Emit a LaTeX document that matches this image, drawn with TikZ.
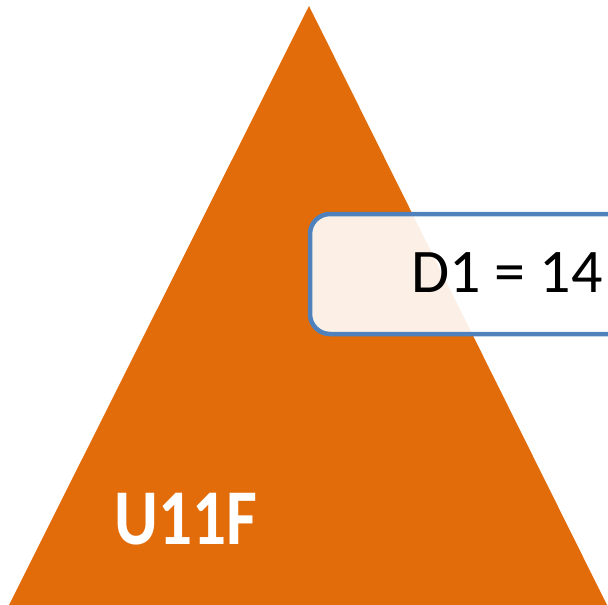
\documentclass[tikz,border=0pt]{standalone}
\usepackage{fontspec}
\setmainfont{Carlito}
\definecolor{tri}{HTML}{E36C0A}
\definecolor{bord}{HTML}{4F81BD}
\tikzset{
  tribox/.style={fill=tri, draw=none},
  valbox/.style={draw=bord, line width=4.5pt, fill=white, fill opacity=0.9, rounded corners=20pt},
  lbl/.style={inner sep=0pt, anchor=base west}
}
\begin{document}
\begin{tikzpicture}[x=1pt,y=-1pt]
\useasboundingbox (0,0) rectangle (608,605);
\fill[tri] (309,6) -- (607,605) -- (9,605) -- cycle;
\draw[valbox] (310,214) rectangle (660,334);
\node[lbl, font=\fontsize{62}{70}\selectfont] (d) at (411,292) {D1 = 14};
\node[lbl, text=white, font=\bfseries\fontsize{79}{88}\selectfont] (u) at (114,544) {\scalebox{0.85}[1]{U11F}};
\end{tikzpicture}
\end{document}
